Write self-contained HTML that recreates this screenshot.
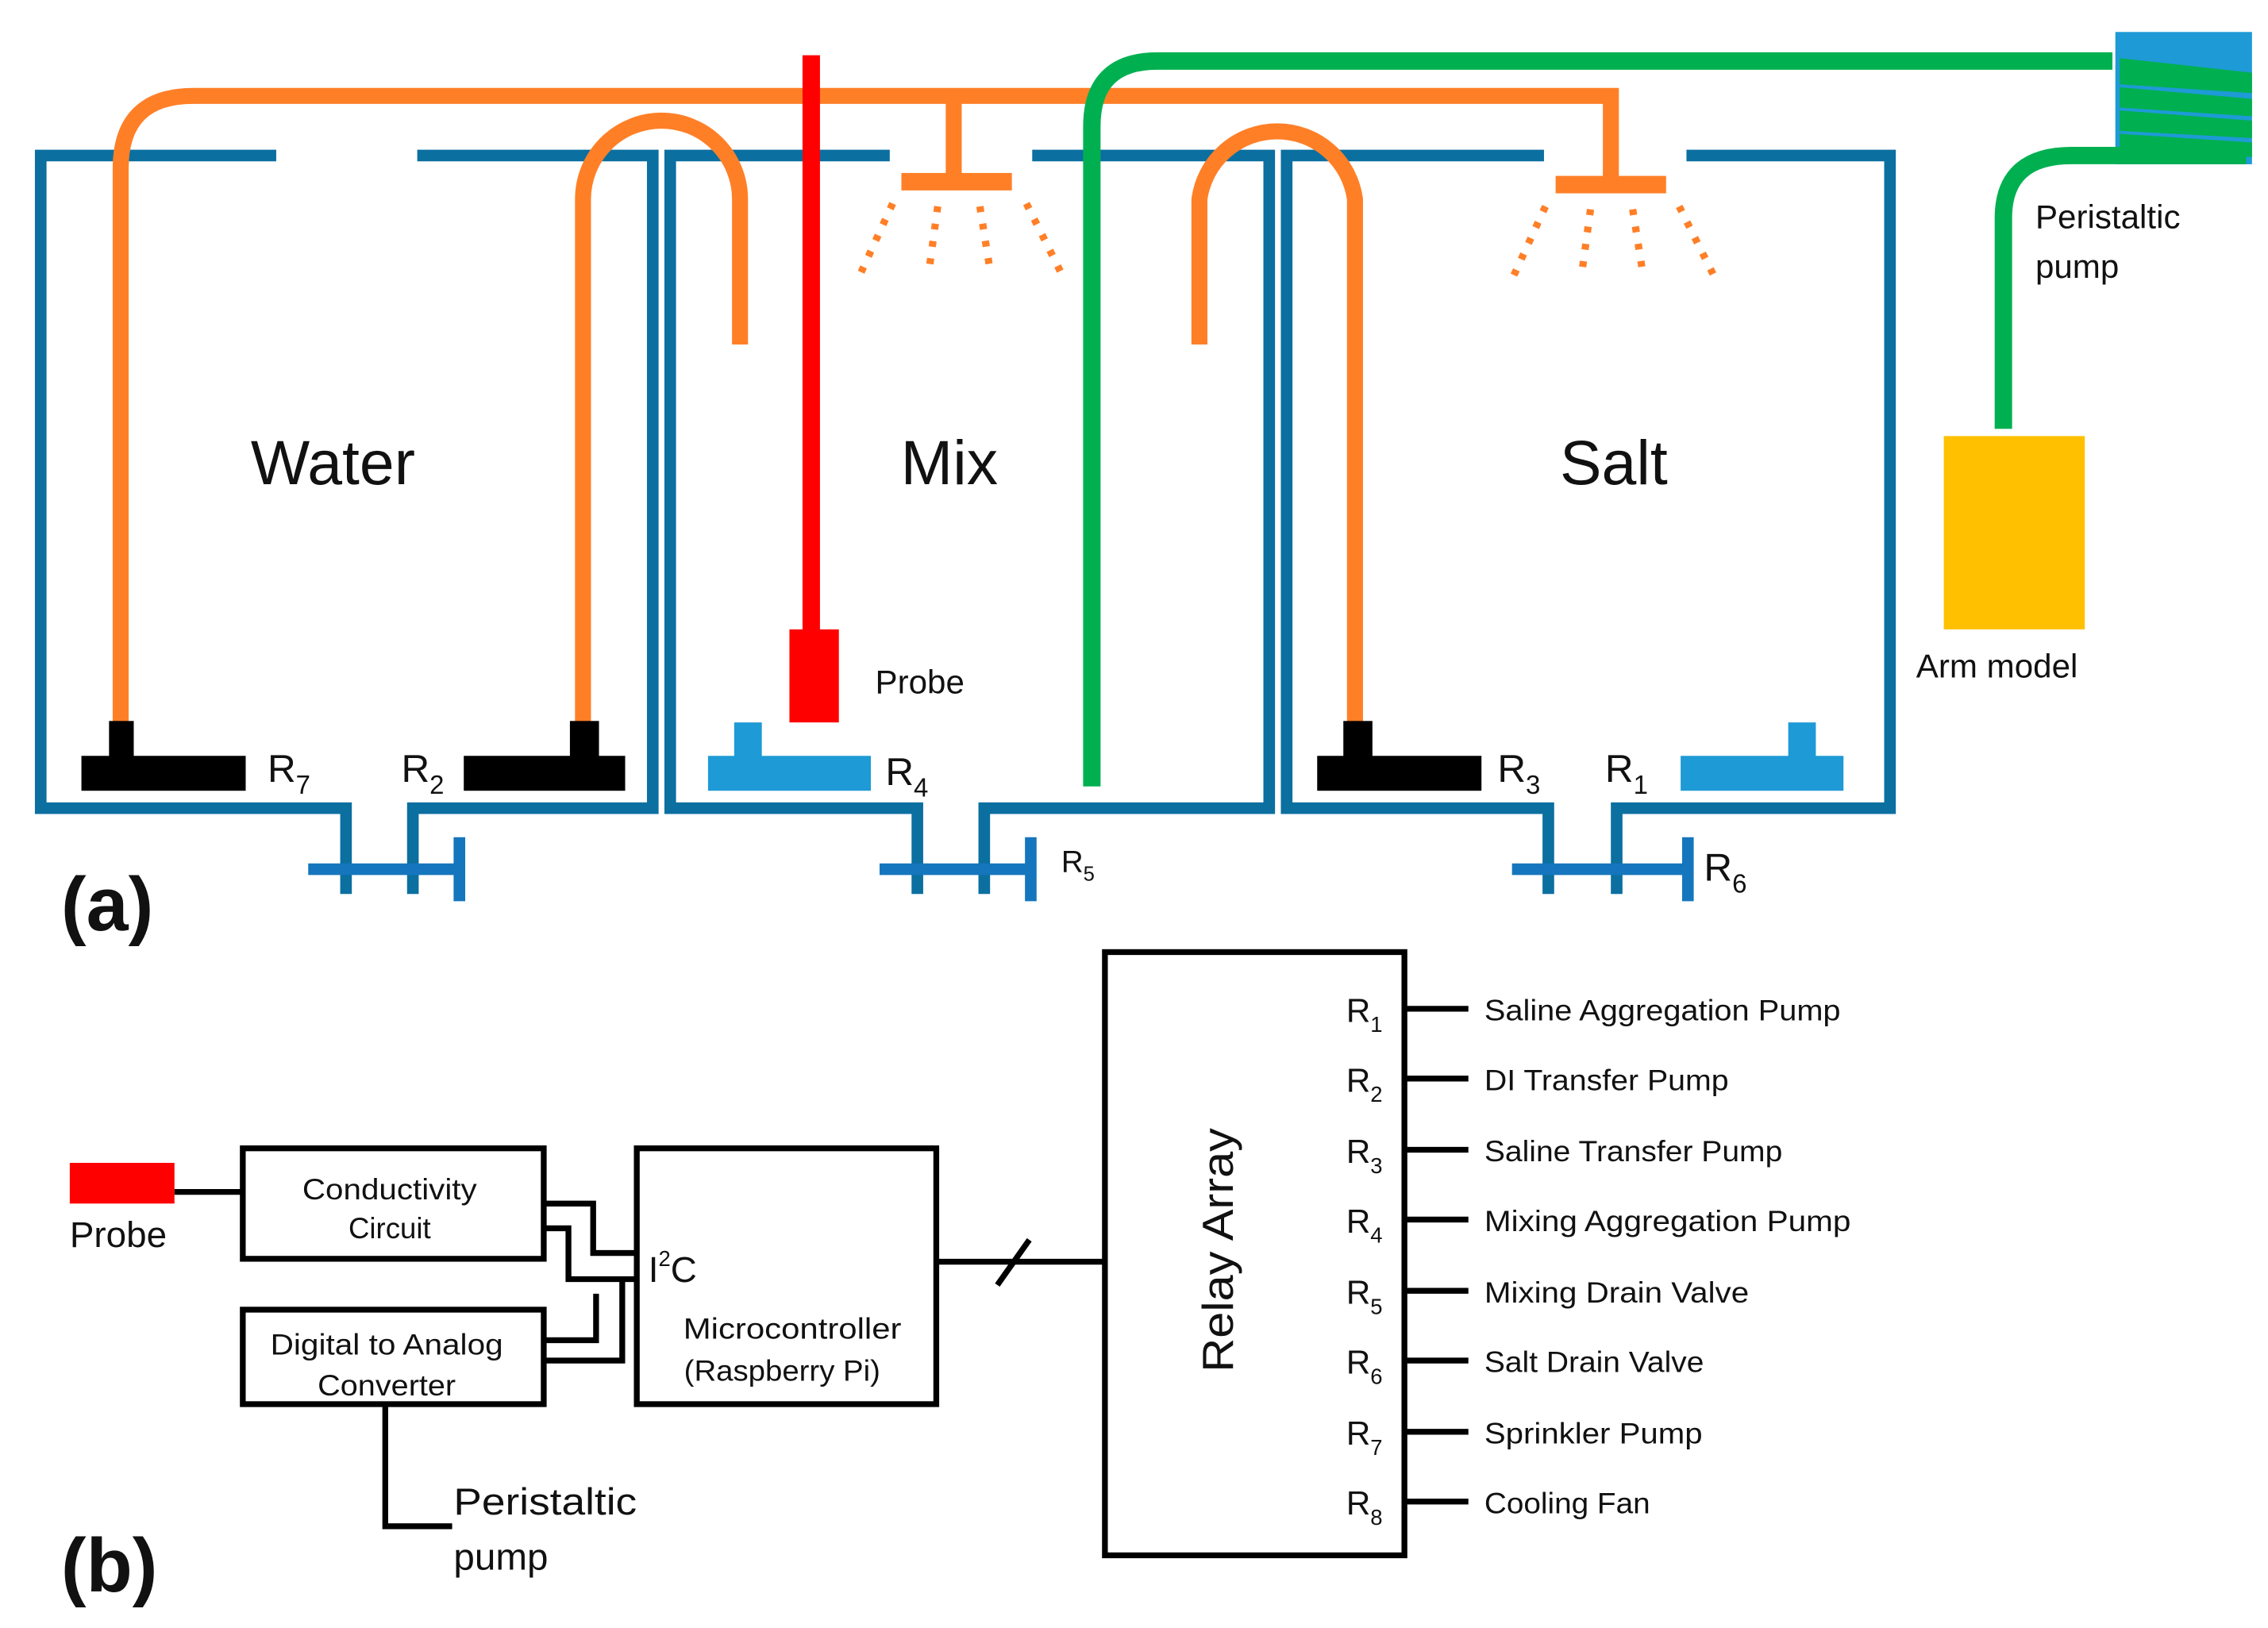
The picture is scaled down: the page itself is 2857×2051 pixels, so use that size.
<!DOCTYPE html>
<html><head><meta charset="utf-8"><style>
html,body{margin:0;padding:0;background:#fff}
svg{display:block}
text{font-family:"Liberation Sans",sans-serif;fill:#111}
</style></head><body>
<svg width="2857" height="2051" viewBox="0 0 1560 1120" preserveAspectRatio="none" xmlns="http://www.w3.org/2000/svg">
<g fill="none" stroke="#0b6fa0" stroke-width="8">
 <path d="M190,107 H28 V556 H238 V615 M284,615 V556 H449 V107 H287"/>
 <path d="M612,107 H461 V556 H631 V615 M677,615 V556 H873 V107 H710"/>
 <path d="M1062,107 H885 V556 H1065 V615 M1112,615 V556 H1300 V107 H1160"/>
</g>
<g fill="none" stroke="#1576bd" stroke-width="8">
 <path d="M212,598 H316 M316,576 V620"/>
 <path d="M605,598 H709 M709,576 V620"/>
 <path d="M1040,598 H1161 M1161,576 V620"/>
</g>
<g fill="none" stroke="#ff7f27" stroke-width="11">
 <path d="M83,497 V116 Q83,66 133,66 H1108 V122"/>
 <path d="M656,66 V122"/>
 <path d="M401,497 V137 A54,54 0 0 1 509,137 V237"/>
 <path d="M825,237 V137 A54,54 0 0 1 932,137 V497"/>
</g>
<rect x="620" y="119" width="76" height="12" fill="#ff7f27"/>
<rect x="1070" y="121" width="76" height="12" fill="#ff7f27"/>
<g stroke="#ff7f27" stroke-width="5" stroke-dasharray="4,8" fill="none">
 <path d="M614,140 L592,188 M645,142 L639,186 M674,142 L681,186 M706,140 L730,188"/>
 <path d="M1063,142 L1041,190 M1094,144 L1088,188 M1123,144 L1130,188 M1155,142 L1179,190"/>
</g>
<rect x="552" y="38" width="12" height="400" fill="#ff0000"/>
<rect x="543" y="433" width="34" height="64" fill="#ff0000"/>
<text x="602" y="477" font-size="23">Probe</text>
<g fill="#000">
 <rect x="75" y="496" width="17" height="26"/><rect x="56" y="520" width="113" height="24"/>
 <rect x="392" y="496" width="20" height="26"/><rect x="319" y="520" width="111" height="24"/>
 <rect x="924" y="496" width="20" height="26"/><rect x="906" y="520" width="113" height="24"/>
</g>
<g fill="#1e9ad6">
 <rect x="505" y="497" width="19" height="25"/><rect x="487" y="520" width="112" height="24"/>
 <rect x="1230" y="497" width="19" height="25"/><rect x="1156" y="520" width="112" height="24"/>
</g>
<g font-size="27">
 <text x="184" y="538">R<tspan font-size="18" dy="8">7</tspan></text>
 <text x="276" y="538">R<tspan font-size="18" dy="8">2</tspan></text>
 <text x="609" y="540">R<tspan font-size="18" dy="8">4</tspan></text>
 <text x="1030" y="538">R<tspan font-size="18" dy="8">3</tspan></text>
 <text x="1104" y="538">R<tspan font-size="18" dy="8">1</tspan></text>
 <text x="1172" y="606">R<tspan font-size="18" dy="8">6</tspan></text>
</g>
<text x="730" y="600" font-size="21">R<tspan font-size="14" dy="6">5</tspan></text>
<g font-size="43">
 <text x="229" y="333" text-anchor="middle">Water</text>
 <text x="653" y="333" text-anchor="middle">Mix</text>
 <text x="1110" y="333" text-anchor="middle">Salt</text>
</g>
<path d="M751,541 V87 Q751,42 796,42 H1453" fill="none" stroke="#00b050" stroke-width="12"/>
<rect x="1455" y="22" width="94" height="91" fill="#1e9ad6"/>
<g fill="#00b050">
 <polygon points="1458,40 1549,50 1549,64 1458,58"/>
 <polygon points="1458,60 1549,68 1549,80 1458,74"/>
 <polygon points="1458,76 1549,83 1549,95 1458,90"/>
 <polygon points="1458,92 1549,98 1549,108 1458,104"/>
</g>
<path d="M1545,107 H1425 Q1378,107 1378,150 V295" fill="none" stroke="#00b050" stroke-width="12"/>
<rect x="1337" y="300" width="97" height="133" fill="#ffc000"/>
<g font-size="23">
 <text x="1400" y="157">Peristaltic</text>
 <text x="1400" y="191">pump</text>
 <text x="1318" y="466">Arm model</text>
</g>
<text x="42" y="640" font-size="52" font-weight="bold">(a)</text>
<text x="42" y="1095" font-size="52" font-weight="bold">(b)</text>
<rect x="48" y="800" width="72" height="28" fill="#ff0000"/>
<path d="M120,820 H167" stroke="#000" stroke-width="4"/>
<text x="48" y="858" font-size="25">Probe</text>
<g fill="none" stroke="#000" stroke-width="4">
 <rect x="167" y="790" width="207" height="76"/>
 <rect x="167" y="901" width="207" height="65"/>
 <rect x="438" y="790" width="206" height="176"/>
 <rect x="760" y="655" width="206" height="415"/>
 <path d="M374,828 H408 V862 H438"/>
 <path d="M374,845 H391 V880 H438"/>
 <path d="M374,922 H410 V890"/>
 <path d="M374,936 H428 V880"/>
 <path d="M265,966 V1050 H311"/>
 <path d="M644,868 H760"/>
 <path d="M686,884 L708,853"/>
</g>
<g font-size="20" text-anchor="middle">
 <text x="268" y="825" textLength="120" lengthAdjust="spacingAndGlyphs">Conductivity</text>
 <text x="268" y="852">Circuit</text>
 <text x="266" y="932" textLength="160" lengthAdjust="spacingAndGlyphs">Digital to Analog</text>
 <text x="266" y="960" textLength="95" lengthAdjust="spacingAndGlyphs">Converter</text>
 <text x="545" y="921" textLength="150" lengthAdjust="spacingAndGlyphs">Microcontroller</text>
 <text x="538" y="950" textLength="135" lengthAdjust="spacingAndGlyphs">(Raspberry Pi)</text>
</g>
<g font-size="26">
 <text x="312" y="1042" textLength="126" lengthAdjust="spacingAndGlyphs">Peristaltic</text>
 <text x="312" y="1080">pump</text>
</g>
<text x="446" y="882" font-size="25">I<tspan font-size="15" dy="-11">2</tspan><tspan dy="11">C</tspan></text>
<text x="0" y="0" font-size="30" text-anchor="middle" transform="translate(848,860) rotate(-90)" textLength="168" lengthAdjust="spacingAndGlyphs">Relay Array</text>
<g stroke="#000" stroke-width="4">
 <path d="M966,694 H1010 M966,742 H1010 M966,791 H1010 M966,839 H1010 M966,888 H1010 M966,936 H1010 M966,985 H1010 M966,1033 H1010"/>
</g>
<g font-size="23">
 <text x="926" y="703">R<tspan font-size="15" dy="7">1</tspan></text>
 <text x="926" y="751">R<tspan font-size="15" dy="7">2</tspan></text>
 <text x="926" y="800">R<tspan font-size="15" dy="7">3</tspan></text>
 <text x="926" y="848">R<tspan font-size="15" dy="7">4</tspan></text>
 <text x="926" y="897">R<tspan font-size="15" dy="7">5</tspan></text>
 <text x="926" y="945">R<tspan font-size="15" dy="7">6</tspan></text>
 <text x="926" y="994">R<tspan font-size="15" dy="7">7</tspan></text>
 <text x="926" y="1042">R<tspan font-size="15" dy="7">8</tspan></text>
</g>
<g font-size="20">
 <text x="1021" y="702" textLength="245" lengthAdjust="spacingAndGlyphs">Saline Aggregation Pump</text>
 <text x="1021" y="750" textLength="168" lengthAdjust="spacingAndGlyphs">DI Transfer Pump</text>
 <text x="1021" y="799" textLength="205" lengthAdjust="spacingAndGlyphs">Saline Transfer Pump</text>
 <text x="1021" y="847" textLength="252" lengthAdjust="spacingAndGlyphs">Mixing Aggregation Pump</text>
 <text x="1021" y="896" textLength="182" lengthAdjust="spacingAndGlyphs">Mixing Drain Valve</text>
 <text x="1021" y="944" textLength="151" lengthAdjust="spacingAndGlyphs">Salt Drain Valve</text>
 <text x="1021" y="993" textLength="150" lengthAdjust="spacingAndGlyphs">Sprinkler Pump</text>
 <text x="1021" y="1041" textLength="114" lengthAdjust="spacingAndGlyphs">Cooling Fan</text>
</g>
</svg>
</body></html>
